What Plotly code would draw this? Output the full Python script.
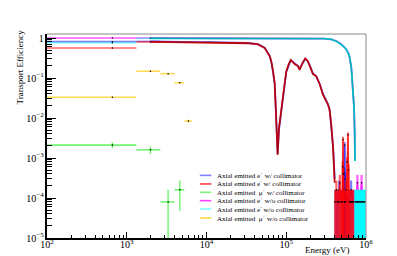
import plotly.graph_objects as go

# ---------------- data ----------------
BIN_HALF = 660  # half bin width in eV

# low-energy wide bins (centres, eV)
low_energy = [660, 1980, 3300, 4620, 5940]

blue_low = [0.81, 0.82]
red_low = [0.56, 0.80]
magenta_low = [1.0, 1.0]
cyan_low = [0.76, 0.98]
green_low = [2.1e-3, 1.6e-3, 8e-5, 1.6e-4]
green_low_err = [3.7e-4, 3.5e-4, 8e-5, 1.13e-4]
yellow_low = [0.033, 0.148, 0.128, 0.076, 0.0084]
yellow_low_err = [0.0016, 0.0034, 0.0032, 0.0025, 0.0008]

# with collimator: e+ (blue) and e- (red)
coll_energy = [1980, 3300, 4620, 6000, 8000, 1.05e4, 1.4e4, 1.86e4, 2.48e4, 3.3e4,
               4.43e4, 5.37e4, 6.2e4, 6.5e4, 6.82e4, 7.16e4, 7.38e4, 7.55e4, 7.66e4,
               7.8e4, 8.1e4, 8.67e4, 9.24e4, 1.0e5, 1.07e5, 1.14e5, 1.28e5, 1.40e5,
               1.47e5, 1.6e5, 1.73e5, 1.85e5, 1.97e5, 2.16e5, 2.38e5, 2.63e5, 2.89e5,
               3.18e5, 3.34e5, 3.5e5, 3.67e5, 3.86e5, 3.97e5, 4.05e5]
red_main = [0.80, 0.79, 0.79, 0.79, 0.78, 0.78, 0.77, 0.77, 0.76, 0.74,
            0.69, 0.56, 0.35, 0.26, 0.15, 0.075, 0.018, 0.0047, 0.0016,
            0.0012, 0.0056, 0.018, 0.042, 0.146, 0.22, 0.28, 0.22, 0.20,
            0.16, 0.24, 0.31, 0.27, 0.20, 0.125, 0.11, 0.07, 0.038,
            0.026, 0.0215, 0.0158, 0.0068, 0.0018, 0.00067, 0.00024]
blue_main = [0.82, 0.80, 0.80, 0.80, 0.79, 0.79, 0.78, 0.78, 0.77, 0.75,
             0.70, 0.57, 0.36, 0.25, 0.14, 0.07, 0.02, 0.005, 0.0017,
             0.0013, 0.005, 0.017, 0.04, 0.14, 0.21, 0.28, 0.23, 0.20,
             0.17, 0.24, 0.30, 0.27, 0.21, 0.13, 0.11, 0.07, 0.04,
             0.027, 0.022, 0.016, 0.007, 0.002, 0.0007, 0.0003]

red_tail_energy = [4.10e5, 4.25e5, 4.40e5, 4.55e5, 4.70e5, 4.85e5, 5.00e5, 5.10e5, 5.15e5,
                   5.20e5, 5.35e5, 5.50e5, 5.65e5, 5.80e5, 5.94e5, 6.05e5, 6.20e5, 6.40e5,
                   6.60e5, 6.80e5, 7.00e5]
red_tail = [8e-5, 1.6e-4, 8e-5, 8e-5, 2.4e-4, 8e-5, 8e-5, 6e-4, 2.9e-3,
            4e-4, 8e-5, 8e-5, 1.6e-4, 8e-4, 3.8e-3, 5e-4, 8e-5, 8e-5,
            8e-5, 8e-5, 8e-5]
red_tail_err = [8e-5, 1.13e-4, 8e-5, 8e-5, 1.39e-4, 8e-5, 8e-5, 2.2e-4, 4.8e-4,
                1.8e-4, 8e-5, 8e-5, 1.13e-4, 2.5e-4, 5.5e-4, 2e-4, 8e-5, 8e-5,
                8e-5, 8e-5, 8e-5]
blue_tail_energy = [4.15e5, 4.35e5, 4.60e5, 4.95e5, 5.30e5, 5.40e5, 5.48e5, 5.75e5,
                    6.15e5, 6.50e5, 6.95e5]
blue_tail = [8e-5, 8e-5, 1.6e-4, 8e-5, 4e-4, 2.1e-3, 3e-4, 8e-5, 8e-5, 1.6e-4, 8e-5]
blue_tail_err = [8e-5, 8e-5, 1.13e-4, 8e-5, 1.8e-4, 4.1e-4, 1.55e-4, 8e-5, 8e-5, 1.13e-4, 8e-5]

# without collimator: e+ (magenta) and e- (cyan)
nocoll_energy = [1980, 3300, 4620, 8000, 1.5e4, 3e4, 6e4, 1e5, 1.5e5, 2e5, 2.5e5, 3e5,
                 3.67e5, 4.3e5, 4.9e5, 5.3e5, 5.66e5, 6.0e5, 6.25e5, 6.55e5, 6.87e5,
                 7.08e5, 7.22e5, 7.28e5]
magenta_main = [1.0, 1.0, 1.0, 1.0, 1.0, 1.0, 1.0, 1.0, 0.99, 0.99, 0.98, 0.97,
                0.93, 0.83, 0.70, 0.61, 0.52, 0.42, 0.32, 0.18, 0.058, 0.019, 0.004, 0.0009]
cyan_main = [0.98, 0.98, 0.98, 0.98, 0.98, 0.98, 0.98, 0.98, 0.98, 0.98, 0.97, 0.96,
             0.92, 0.82, 0.69, 0.60, 0.52, 0.42, 0.32, 0.18, 0.056, 0.018, 0.0038, 0.00084]

magenta_tail_energy = [7.40e5, 7.80e5, 8.20e5, 8.80e5, 9.30e5]
magenta_tail = [8e-5, 2.4e-4, 8e-5, 2.4e-4, 8e-5]
magenta_tail_err = [8e-5, 1.39e-4, 8e-5, 1.39e-4, 8e-5]
cyan_tail_energy = [7.35e5, 7.55e5, 7.78e5, 8.0e5, 8.22e5, 8.45e5, 8.7e5, 8.95e5,
                    9.2e5, 9.45e5, 9.65e5]
cyan_tail = [8e-5] * 11
cyan_tail_err = [8e-5] * 11

legend_labels = [
    "Axial emitted e<sup>+</sup> w/ collimator",
    "Axial emitted e<sup>-</sup> w/ collimator",
    "Axial emitted  \u03bc<sup>+</sup> w/ collimator",
    "Axial emitted e<sup>+</sup> w/o collimator",
    "Axial emitted e<sup>-</sup> w/o collimator",
    "Axial emitted  \u03bc<sup>+</sup> w/o collimator",
]

# ---------------- style ----------------
# translucent colours (single bins / legend) and saturated colours (dense curves)
C_BLUE, D_BLUE = "rgba(0,0,255,0.5)", "rgba(70,70,255,0.9)"
C_RED, D_RED = "rgba(255,0,0,0.6)", "rgba(235,0,0,0.9)"
C_GREEN = "rgba(0,235,0,0.55)"
C_MAG, D_MAG = "rgba(255,0,255,0.65)", "rgba(255,0,255,0.9)"
C_CYAN, D_CYAN = "rgba(0,255,255,0.5)", "rgba(0,230,230,1.0)"
C_YEL = "rgba(255,200,0,0.65)"
legend_colors = ["rgba(0,0,255,0.5)", "rgba(255,0,0,0.75)", "rgba(0,235,0,0.5)",
                 "rgba(255,0,255,0.75)", "rgba(0,255,255,0.5)", "rgba(255,200,0,0.75)"]
FONT = "Liberation Serif"

fig = go.Figure()


def bins(x, y, yerr, color):
    n = len(y)
    fig.add_trace(go.Scatter(
        x=x[:n], y=y, mode="markers",
        marker=dict(color="black", size=1.5),
        error_x=dict(type="data", symmetric=False,
                     array=[BIN_HALF] * n,
                     arrayminus=[min(BIN_HALF, xx - 1) for xx in x[:n]],
                     color=color, thickness=1.6, width=0),
        error_y=dict(type="data", symmetric=False, array=yerr,
                     arrayminus=[min(e, v * 0.9999) for e, v in zip(yerr, y)],
                     color=color, thickness=1.4, width=0),
        showlegend=False, hoverinfo="skip"))


def curve(x, y, color):
    fig.add_trace(go.Scatter(x=x, y=y, mode="lines", line=dict(color=color, width=1.8),
                             showlegend=False, hoverinfo="skip"))
    fig.add_trace(go.Scatter(x=x, y=y, mode="lines", line=dict(color="rgba(0,0,0,0.45)", width=0.6),
                             showlegend=False, hoverinfo="skip"))


def tail(x, y, yerr, color):
    fig.add_trace(go.Scatter(
        x=x, y=y, mode="lines+markers",
        line=dict(color=color, width=1.3),
        marker=dict(color="black", size=1.6),
        error_y=dict(type="data", symmetric=False, array=yerr,
                     arrayminus=[v * 0.9999 for v in y],
                     color=color, thickness=2.2, width=0),
        showlegend=False, hoverinfo="skip"))


# draw order as in the original: e+ coll, e- coll, mu coll, e+ no coll, e- no coll, mu no coll
bins(low_energy, blue_low, [0.006, 0.004], C_BLUE)
curve(coll_energy, blue_main, D_BLUE)
tail(blue_tail_energy, blue_tail, blue_tail_err, C_BLUE)

bins(low_energy, red_low, [0.005, 0.004], C_RED)
curve(coll_energy, red_main, D_RED)
tail(red_tail_energy, red_tail, red_tail_err, C_RED)

bins(low_energy, green_low, green_low_err, C_GREEN)

bins(low_energy, magenta_low, [0.006, 0.004], C_MAG)
curve(nocoll_energy, magenta_main, D_MAG)
tail(magenta_tail_energy, magenta_tail, magenta_tail_err, C_MAG)

bins(low_energy, cyan_low, [0.006, 0.004], C_CYAN)
curve(nocoll_energy, cyan_main, D_CYAN)
tail(cyan_tail_energy, cyan_tail, cyan_tail_err, "rgba(0,255,255,0.85)")

bins(low_energy, yellow_low, yellow_low_err, C_YEL)

# ---------------- layout ----------------
fig.update_layout(
    width=397, height=256,
    margin=dict(l=39, r=39, t=26, b=26),
    plot_bgcolor="white", paper_bgcolor="white",
    showlegend=False,
    font=dict(family=FONT, size=8, color="black"),
)
fig.update_xaxes(
    type="log", range=[2, 6], dtick=1, exponentformat="power",
    ticks="inside", ticklen=6, tickcolor="black", tickwidth=1,
    showline=True, linecolor="black", linewidth=1.5,
    showgrid=False, zeroline=False, ticklabelstandoff=-3,
    minor=dict(ticks="inside", ticklen=3, tickcolor="black", showgrid=False),
    tickfont=dict(family=FONT, size=8),
)
fig.update_yaxes(
    type="log", range=[-5, 0.1], dtick=1, exponentformat="power",
    ticks="inside", ticklen=9, tickcolor="black", tickwidth=1,
    showline=True, linecolor="black", linewidth=1.5,
    showgrid=False, zeroline=False,
    minor=dict(ticks="inside", ticklen=5, tickcolor="black", showgrid=False),
    tickfont=dict(family=FONT, size=8),
)

# frame top/right
fig.add_shape(type="line", xref="paper", yref="paper", x0=0, x1=1, y0=1, y1=1,
              line=dict(color="#888888", width=1))
fig.add_shape(type="line", xref="paper", yref="paper", x0=1, x1=1, y0=0, y1=1,
              line=dict(color="#888888", width=1))

# axis titles
fig.add_annotation(text="Transport Efficiency", xref="paper", yref="paper",
                   x=-0.085, y=0.84, textangle=-90, showarrow=False,
                   xanchor="center", yanchor="middle",
                   font=dict(family=FONT, size=9))
fig.add_annotation(text="Energy (eV)", xref="paper", yref="paper",
                   x=0.955, y=-0.058, showarrow=False,
                   xanchor="right", yanchor="middle",
                   font=dict(family=FONT, size=9))

# legend (manual, compact as in the original)
row_y = [0.307, 0.265, 0.224, 0.183, 0.142, 0.098]
for lab, col, yy in zip(legend_labels, legend_colors, row_y):
    fig.add_shape(type="line", xref="paper", yref="paper", x0=0.479, x1=0.515,
                  y0=yy, y1=yy, line=dict(color=col, width=1.6))
    fig.add_annotation(text=lab, xref="paper", yref="paper", x=0.527, y=yy,
                       xanchor="left", yanchor="middle", showarrow=False,
                       font=dict(family=FONT, size=7))

fig.write_html("out.html")
